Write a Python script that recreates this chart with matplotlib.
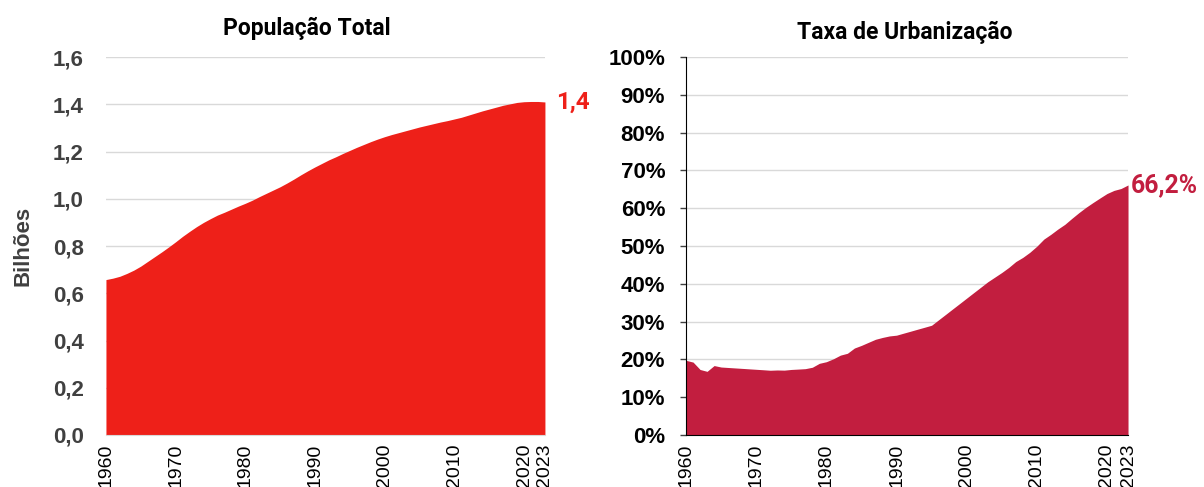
import matplotlib.pyplot as plt
import numpy as np

# anos
years = list(range(1960, 2024))

# População total da China (bilhões)
populacao = [0.658, 0.664, 0.672, 0.684, 0.698, 0.715, 0.735, 0.755, 0.775, 0.796,
             0.818, 0.841, 0.862, 0.882, 0.900, 0.916, 0.931, 0.943, 0.956, 0.969,
             0.981, 0.994, 1.009, 1.023, 1.037, 1.051, 1.067, 1.084, 1.102, 1.119,
             1.135, 1.150, 1.165, 1.178, 1.192, 1.205, 1.218, 1.230, 1.242, 1.253,
             1.263, 1.272, 1.280, 1.288, 1.296, 1.304, 1.311, 1.318, 1.325, 1.331,
             1.338, 1.345, 1.354, 1.363, 1.372, 1.380, 1.388, 1.396, 1.402, 1.408,
             1.411, 1.412, 1.412, 1.410]

# Taxa de urbanização (%)
urbanizacao = [19.75, 19.29, 17.33, 16.84, 18.37, 17.98, 17.86, 17.74, 17.62, 17.50,
               17.38, 17.26, 17.13, 17.20, 17.16, 17.34, 17.44, 17.55, 17.92, 18.96,
               19.39, 20.16, 21.13, 21.62, 23.01, 23.71, 24.52, 25.32, 25.81, 26.21,
               26.41, 26.94, 27.46, 27.99, 28.51, 29.04, 30.48, 31.91, 33.35, 34.78,
               36.22, 37.66, 39.09, 40.53, 41.76, 42.99, 44.34, 45.89, 46.99, 48.34,
               49.95, 51.83, 53.10, 54.49, 55.75, 57.33, 58.84, 60.24, 61.50, 62.71,
               63.89, 64.72, 65.22, 66.16]

xticks = [1960, 1970, 1980, 1990, 2000, 2010, 2020, 2023]
pop_ticks = [0.0, 0.2, 0.4, 0.6, 0.8, 1.0, 1.2, 1.4, 1.6]
urb_ticks = [0, 10, 20, 30, 40, 50, 60, 70, 80, 90, 100]

RED = '#EE2019'
CRIMSON = '#C21E3F'
GRID = '#D9D9D9'
TITLEF = 'Roboto'
ARIAL = 'Liberation Sans'


def year_axis(ax):
    ax.set_xlim(1960, 2023)
    ax.set_xticks(xticks)
    ax.set_xticklabels([str(x) for x in xticks], rotation=90, fontsize=14,
                       family=ARIAL, color='black')
    ax.tick_params(axis='x', length=0, pad=6)


fig = plt.figure(figsize=(12.04, 4.87), dpi=100)

# painel esquerdo: população
ax1 = fig.add_axes([0.088, 0.1068, 0.3646, 0.776])
ax1.fill_between(years, populacao, 0, color=RED, lw=0, zorder=2)
ax1.set_ylim(0, 1.6)
ax1.set_yticks(pop_ticks)
ax1.set_yticklabels([('%.1f' % v).replace('.', ',') for v in pop_ticks],
                    family=ARIAL, fontweight='bold', fontsize=16, color='#404040')
ax1.tick_params(axis='y', length=0, pad=16)
year_axis(ax1)
for s in ['top', 'right', 'left']:
    ax1.spines[s].set_visible(False)
ax1.spines['bottom'].set_color(GRID)
ax1.yaxis.grid(True, color=GRID, lw=1)
ax1.set_axisbelow(True)
ax1.set_ylabel('Bilhões', family=ARIAL, fontweight='bold', fontsize=16,
               color='#404040', labelpad=14)
ax1.text(1.025, populacao[-1], '1,4', transform=ax1.get_yaxis_transform(),
         family=TITLEF, fontweight='bold', fontsize=17.5, color=RED,
         ha='left', va='center')
fig.text(0.255, 0.9425, 'População Total', family=TITLEF, fontweight='bold',
         fontsize=16.5, ha='center', va='center')

# painel direito: urbanização
ax2 = fig.add_axes([0.5698, 0.1068, 0.3671, 0.776])
ax2.fill_between(years, urbanizacao, 0, color=CRIMSON, lw=0, zorder=2)
ax2.set_ylim(0, 100)
ax2.set_yticks(urb_ticks)
ax2.set_yticklabels(['%d%%' % v for v in urb_ticks], family=ARIAL,
                    fontweight='bold', fontsize=16, color='black')
ax2.tick_params(axis='y', length=4, width=1, color='#404040', pad=11)
year_axis(ax2)
for s in ['top', 'right']:
    ax2.spines[s].set_visible(False)
ax2.spines['left'].set_color('black')
ax2.spines['bottom'].set_color('black')
ax2.yaxis.grid(True, color=GRID, lw=1)
ax2.set_axisbelow(True)
ax2.text(1.006, urbanizacao[-1], '66,2%', transform=ax2.get_yaxis_transform(),
         family=TITLEF, fontweight='bold', fontsize=17.8, color=CRIMSON,
         ha='left', va='center')
fig.text(0.7515, 0.934, 'Taxa de Urbanização', family=TITLEF, fontweight='bold',
         fontsize=16.5, ha='center', va='center')

plt.savefig('out.png', dpi=100)
